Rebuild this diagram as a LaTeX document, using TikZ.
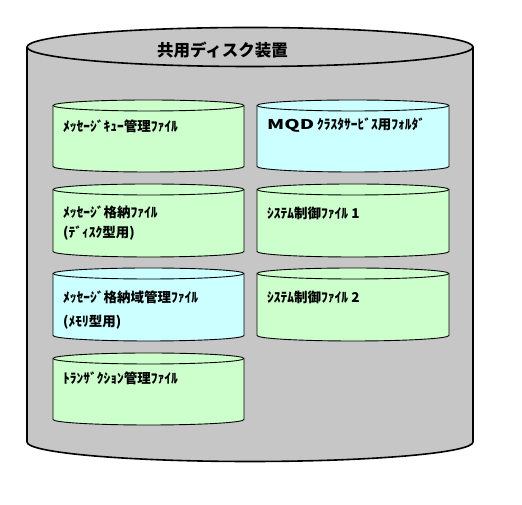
\documentclass[tikz,border=0pt]{standalone}
\usepackage{fontspec}
\newfontfamily\jp{Noto Sans CJK JP}
\definecolor{diskgray}{HTML}{C6C6C6}
\definecolor{filegreen}{HTML}{CCFFCC}
\definecolor{filecyan}{HTML}{CCFFFF}
\newcommand{\drawcyl}[7]{%
  % #1 name, #2 x1, #3 x2, #4 Y top centre, #5 Y bottom centre, #6 ry, #7 colour
  \pgfmathsetmacro{\cylrx}{(#3-#2)/2}%
  \pgfmathsetmacro{\cylcx}{(#3+#2)/2}%
  \coordinate (#1) at (\cylcx,#4);%
  \filldraw[fill=#7] (#2,#4) -- (#2,#5)
    arc[start angle=180,end angle=360,x radius=\cylrx,y radius=#6]
    -- (#3,#4)
    arc[start angle=0,end angle=180,x radius=\cylrx,y radius=#6] -- cycle;%
  \draw (#2,#4) arc[start angle=180,end angle=360,x radius=\cylrx,y radius=#6];%
}
\tikzset{
  filetext/.style={anchor=west,inner sep=0pt,font=\jp\bfseries\fontsize{13.5}{14}\selectfont},
  titletext/.style={inner sep=0pt,font=\jp\bfseries\fontsize{16.5}{17}\selectfont}
}
\begin{document}
\begin{tikzpicture}[x=1pt,y=1pt]
\useasboundingbox[fill=white] (0,0) rectangle (522,505);
\begin{scope}[line width=1.6pt]
\drawcyl{disk}{27}{473}{458}{63}{19.5}{diskgray}
\end{scope}
\node[titletext] (title) at (222.5,455) {共用ディスク装置};
\begin{scope}[line width=0.9pt]
\drawcyl{c1}{53}{244}{399.5}{338.5}{5.5}{filegreen}
\drawcyl{c2}{53}{244}{315.5}{253.5}{5.5}{filegreen}
\drawcyl{c3}{53}{244}{231.5}{169.5}{5.5}{filecyan}
\drawcyl{c4}{53}{244}{146.5}{85.5}{5.5}{filegreen}
\drawcyl{c5}{257}{449}{399.5}{338.5}{5.5}{filecyan}
\drawcyl{c6}{257}{449}{315.5}{253.5}{5.5}{filegreen}
\drawcyl{c7}{257}{449}{231.5}{169.5}{5.5}{filegreen}
\end{scope}
\node[filetext] (t1) at (63,379) {ﾒｯｾｰｼﾞｷｭｰ管理ﾌｧｲﾙ};
\node[filetext] (t2a) at (63,293) {ﾒｯｾｰｼﾞ格納ﾌｧｲﾙ};
\node[filetext] (t2b) at (63,272) {(ﾃﾞｨｽｸ型用)};
\node[filetext] (t3a) at (63,208) {ﾒｯｾｰｼﾞ格納域管理ﾌｧｲﾙ};
\node[filetext] (t3b) at (63,183) {(ﾒﾓﾘ型用)};
\node[filetext] (t4) at (63,127) {ﾄﾗﾝｻﾞｸｼｮﾝ管理ﾌｧｲﾙ};
\node[filetext] (t5) at (267,380) {\scalebox{1.45}[1]{MQD} ｸﾗｽﾀｻｰﾋﾞｽ用ﾌｫﾙﾀﾞ};
\node[filetext] (t6) at (267,292) {ｼｽﾃﾑ制御ﾌｧｲﾙ 1};
\node[filetext] (t7) at (267,208) {ｼｽﾃﾑ制御ﾌｧｲﾙ 2};
\end{tikzpicture}
\end{document}
